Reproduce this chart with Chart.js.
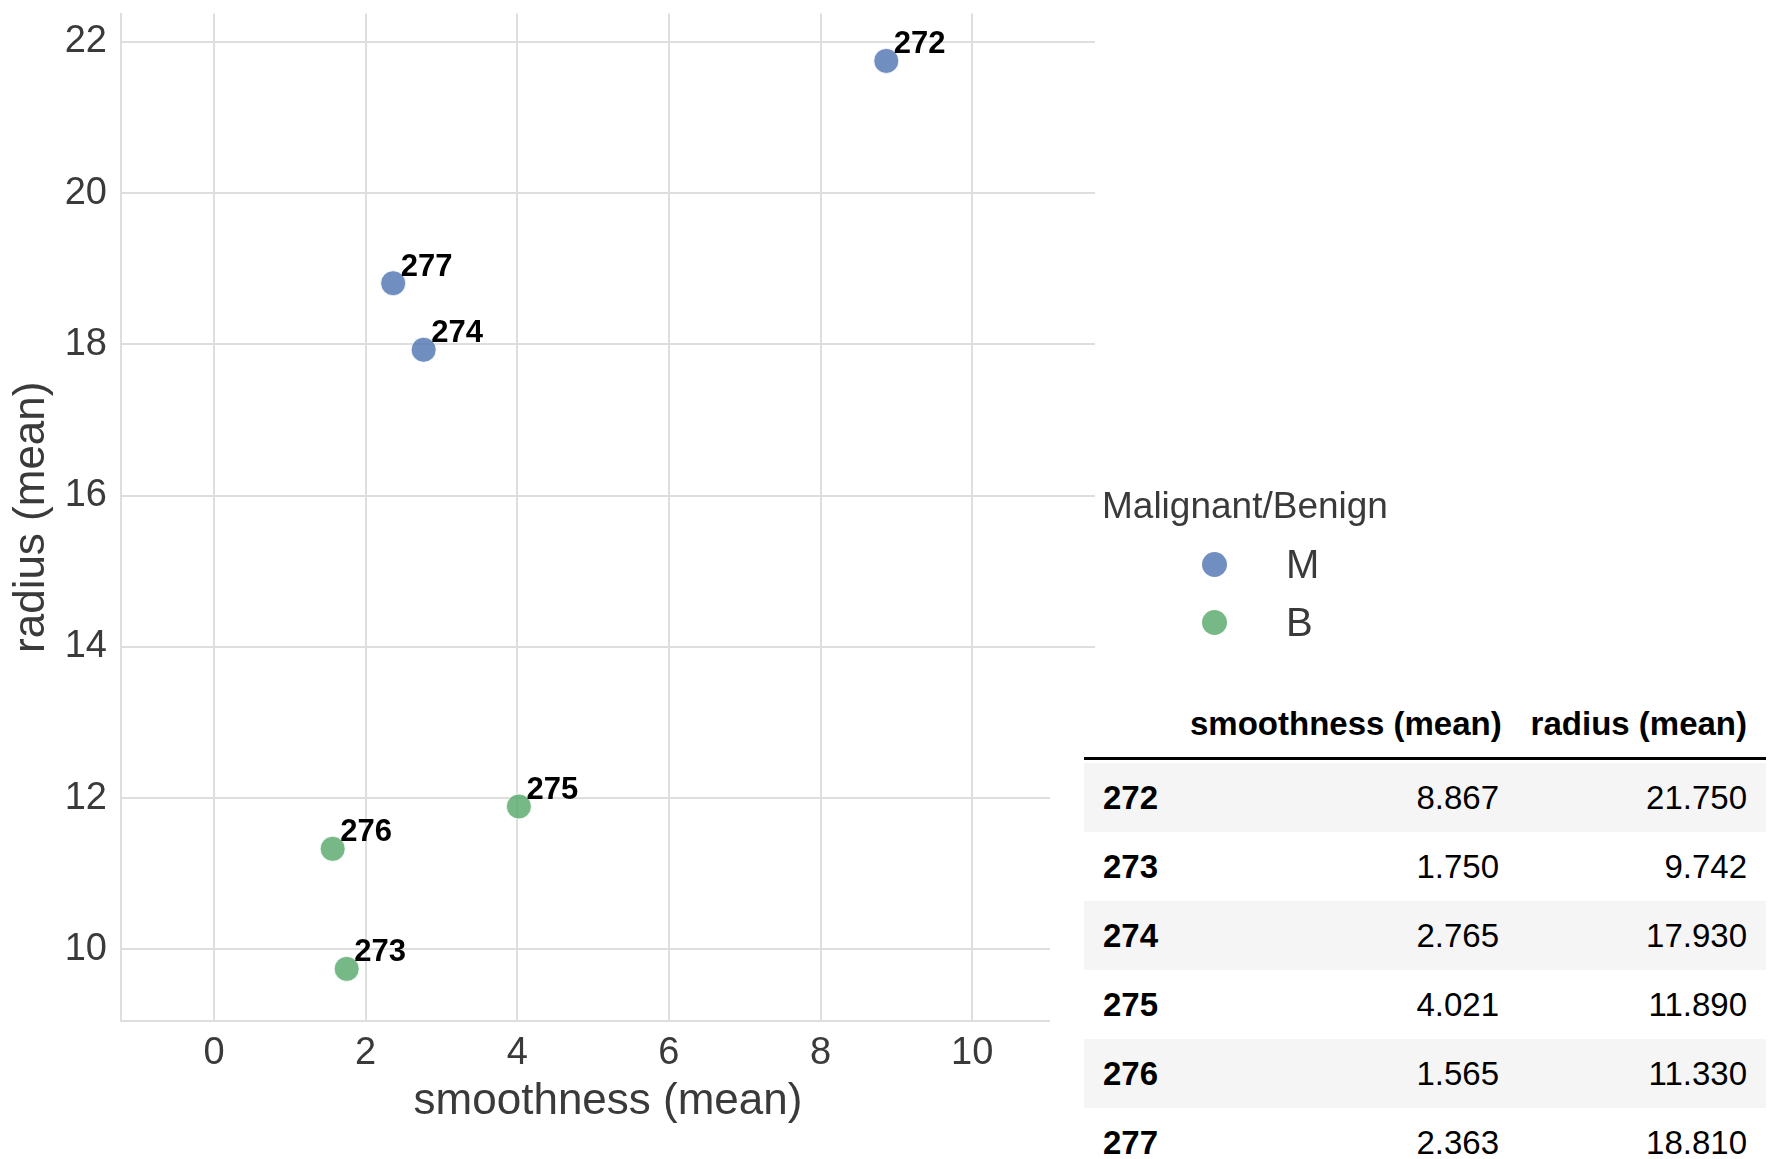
<!DOCTYPE html>
<html>
<head>
<meta charset="utf-8">
<script src="https://cdn.jsdelivr.net/npm/chart.js@4.4.1/dist/chart.umd.min.js"></script>
<style>
  body { margin: 0; background: #fff; font-family: "Liberation Sans", Arial, sans-serif; }
  #wrap { position: relative; width: 1776px; height: 1159px; overflow: hidden; }
  #chart { position: absolute; left: 0; top: 0; }
  #legend { position: absolute; left: 0; top: 0; }
  .lg-title { position: absolute; left: 1102px; top: 486px; font-size: 37px; line-height: 40px; color: #3a3a3a; white-space: nowrap; }
  .lg-dot { position: absolute; width: 25px; height: 25px; border-radius: 50%; }
  .lg-label { position: absolute; left: 1286px; font-size: 40px; line-height: 46px; color: #3a3a3a; }
  #cover { position: absolute; left: 1050px; top: 680px; width: 726px; height: 479px; background: #fff; }
  #tbl { position: absolute; left: 1084px; top: 690px; width: 682px; border-collapse: separate; border-spacing: 0;
         table-layout: fixed; font-size: 33px; color: #000; }
  #tbl th, #tbl td { padding: 0; vertical-align: middle; white-space: nowrap; }
  #tbl thead th { height: 67px; border-bottom: 3px solid #000; font-weight: bold; text-align: right; }
  #tbl tbody td { height: 69px; text-align: right; background-clip: padding-box; }
  #tbl tbody tr:first-child td { border-top: 3px solid transparent; }
  #tbl tbody tr:nth-child(odd) td { background-color: #f5f5f5; }
  #tbl .idx { text-align: left; padding-left: 19px; font-weight: bold; }
  #tbl .c1 { padding-right: 16px; }
  #tbl .c2 { padding-right: 19px; }
</style>
</head>
<body>
<div id="wrap">
  <canvas id="chart" width="1776" height="1159"></canvas>
  <div id="legend"></div>
  <div id="cover"></div>
  <table id="tbl">
    <colgroup><col style="width:106px"><col style="width:325px"><col style="width:251px"></colgroup>
    <thead><tr><th class="idx"></th><th class="c1" id="h1"></th><th class="c2" id="h2"></th></tr></thead>
    <tbody id="tbody"></tbody>
  </table>
</div>
<script>
// data
const ids = [272, 273, 274, 275, 276, 277];
const smoothness = [8.867, 1.750, 2.765, 4.021, 1.565, 2.363];
const radius = [21.750, 9.742, 17.930, 11.890, 11.330, 18.810];
const diagnosis = ["M", "B", "M", "B", "B", "M"];

const classes = ["M", "B"];
const classColors = ["rgba(76,114,176,0.8)", "rgba(85,168,104,0.8)"];
const legendTitle = "Malignant/Benign";
const xTitle = "smoothness (mean)";
const yTitle = "radius (mean)";

const FONT = '"Liberation Sans", Arial, sans-serif';
const textColor = "#3a3a3a";
const gridColor = "#dedede";

const datasets = classes.map((c, k) => ({
  label: c,
  data: ids.map((id, i) => ({ x: smoothness[i], y: radius[i], cls: diagnosis[i] }))
           .filter(p => p.cls === c),
  backgroundColor: classColors[k],
  borderColor: "rgba(255,255,255,0.8)",
  borderWidth: 1,
  pointRadius: 12.5,
  pointHoverRadius: 12.5
}));

// bold id next to each point
const pointLabels = {
  id: "pointLabels",
  afterDatasetsDraw(chart) {
    const { ctx, scales: { x, y } } = chart;
    ctx.save();
    ctx.font = "bold 31px " + FONT;
    ctx.fillStyle = "#000";
    ctx.textAlign = "left";
    ctx.textBaseline = "alphabetic";
    ids.forEach((id, i) => {
      ctx.fillText(String(id), x.getPixelForValue(smoothness[i] + 0.1), y.getPixelForValue(radius[i] + 0.1));
    });
    ctx.restore();
  }
};

new Chart(document.getElementById("chart"), {
  type: "scatter",
  data: { datasets: datasets },
  options: {
    responsive: false,
    animation: false,
    layout: { padding: { left: 0, top: 9, right: 681, bottom: 0 } },
    plugins: { legend: { display: false }, tooltip: { enabled: false } },
    scales: {
      x: {
        type: "linear",
        min: -1.227,
        max: 11.62,
        afterFit: s => { s.height = 138; s.paddingLeft = 0; s.paddingRight = 0; },
        grid: { color: gridColor, lineWidth: 2, drawTicks: false },
        border: { display: true, color: gridColor, width: 2 },
        ticks: { stepSize: 2, includeBounds: false, padding: 10, color: textColor, font: { size: 38, family: FONT } },
        title: { display: true, text: xTitle, color: textColor, font: { size: 44, family: FONT }, padding: { top: 0, bottom: 31 } }
      },
      y: {
        type: "linear",
        min: 9.053,
        max: 22.377,
        afterFit: s => { s.width = 121; s.paddingTop = 0; s.paddingBottom = 0; },
        grid: { color: gridColor, lineWidth: 2, drawTicks: false },
        border: { display: true, color: gridColor, width: 2 },
        ticks: { stepSize: 2, includeBounds: false, padding: 14, color: textColor, font: { size: 38, family: FONT } },
        title: { display: true, text: yTitle, color: textColor, font: { size: 44, family: FONT }, padding: { top: 5, bottom: 0 } }
      }
    }
  },
  plugins: [pointLabels]
});

// legend
const legend = document.getElementById("legend");
let html = '<div class="lg-title">' + legendTitle + '</div>';
classes.forEach((c, k) => {
  const cy = 564 + k * 58;
  html += '<div class="lg-dot" style="left:1201.5px;top:' + (cy - 12.5) + 'px;background:' + classColors[k] + '"></div>';
  html += '<div class="lg-label" style="top:' + (cy - 23) + 'px">' + c + '</div>';
});
legend.innerHTML = html;

// table
document.getElementById("h1").textContent = xTitle;
document.getElementById("h2").textContent = yTitle;
document.getElementById("tbody").innerHTML = ids.map((id, i) =>
  '<tr><td class="idx">' + id + '</td><td class="c1">' + smoothness[i].toFixed(3) +
  '</td><td class="c2">' + radius[i].toFixed(3) + '</td></tr>').join("");
</script>
</body>
</html>
